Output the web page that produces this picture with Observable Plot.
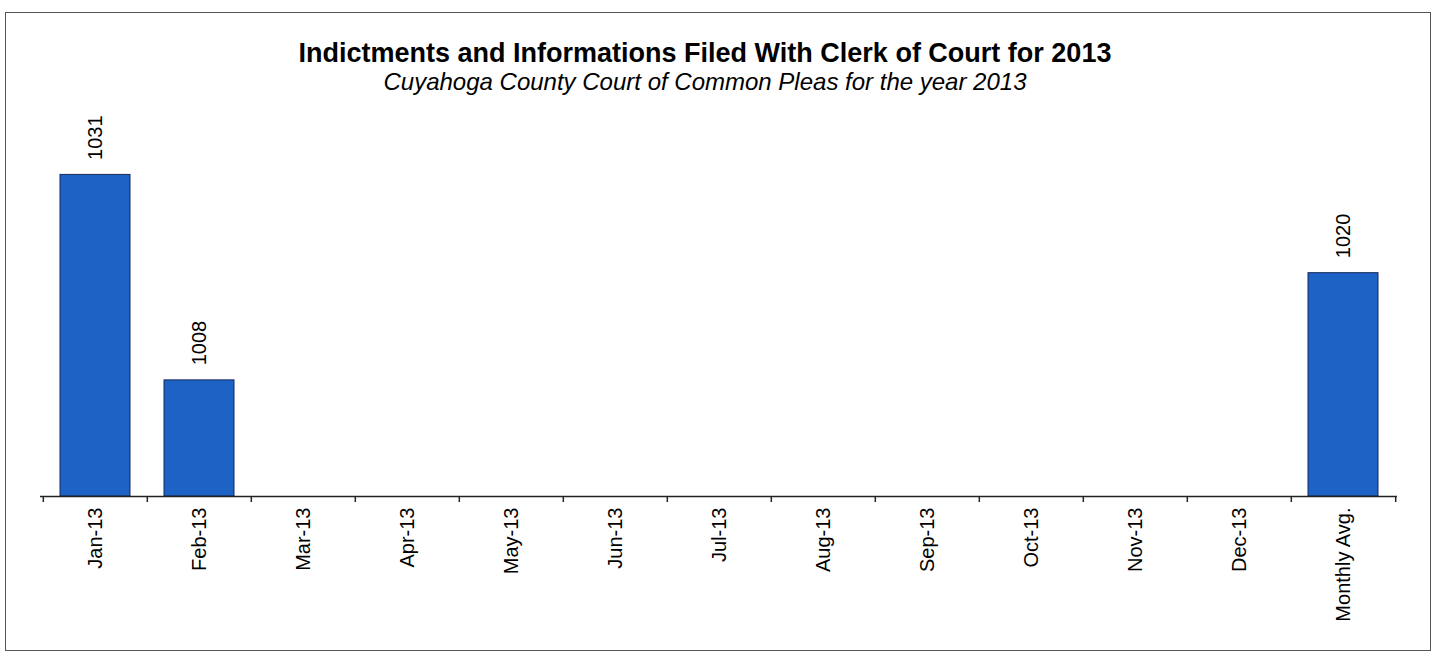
<!DOCTYPE html>
<html><head><meta charset="utf-8">
<script src="https://cdn.jsdelivr.net/npm/d3@7"></script>
<script src="https://cdn.jsdelivr.net/npm/@observablehq/plot@0.6"></script>
<style>
body{margin:0;background:#fff;font-family:"Liberation Sans",Arial,Helvetica,sans-serif;}
#wrap{position:relative;width:1437px;height:654px;overflow:hidden;background:#fff;}
#frame{position:absolute;left:5px;top:12px;width:1426px;height:639px;border:1.5px solid #555;box-sizing:border-box;}
#title{position:absolute;left:0;width:1410px;top:40px;text-align:center;font-weight:bold;font-size:27px;line-height:1;color:#000;white-space:nowrap;}
#subtitle{position:absolute;left:0;width:1410px;top:70px;text-align:center;font-style:italic;font-size:24px;line-height:1;color:#000;white-space:nowrap;}
#chart{position:absolute;left:0;top:94px;}
</style>
</head><body>
<div id="wrap">
  <div id="frame"></div>
  <div id="title">Indictments and Informations Filed With Clerk of Court for 2013</div>
  <div id="subtitle">Cuyahoga County Court of Common Pleas for the year 2013</div>
  <div id="chart"></div>
</div>
<script>
// Data
const categories = ["Jan-13","Feb-13","Mar-13","Apr-13","May-13","Jun-13","Jul-13","Aug-13","Sep-13","Oct-13","Nov-13","Dec-13","Monthly Avg."];
const values = [1031, 1008, null, null, null, null, null, null, null, null, null, null, 1020];
const yDomain = [995, 1040];

const data = categories.map((c, i) => ({category: c, value: values[i]}));
const bars = data.filter(d => d.value != null);

const W = 1437, H = 560, mL = 40, mR = 40;
const step = (W - mL - mR) / categories.length;
const font = '"Liberation Sans", Arial, Helvetica, sans-serif';

const plot = Plot.plot({
  width: W,
  height: H,
  marginLeft: mL,
  marginRight: mR,
  marginTop: 0,
  marginBottom: 158,
  style: {fontFamily: font, background: "transparent", color: "#000", overflow: "visible"},
  x: {type: "band", domain: categories, paddingInner: 0.33, paddingOuter: 0.165, label: null},
  y: {domain: yDomain, axis: null},
  marks: [
    Plot.barY(bars, {x: "category", y1: yDomain[0], y2: "value", fill: "#1d63c6", stroke: "#18295a", strokeWidth: 1}),
    Plot.text(bars, {x: "category", y: "value", text: d => String(d.value), rotate: -90, textAnchor: "start", dy: -15, fontSize: 20, fill: "#000"}),
    Plot.ruleY([yDomain[0]], {stroke: "#222", strokeWidth: 1.5}),
    Plot.axisX({ticks: categories, tickSize: 6, tickFormat: () => "", fill: "none", dx: -step / 2, stroke: "#222", strokeWidth: 1.5, label: null}),
    Plot.axisX({ticks: [categories[categories.length - 1]], tickSize: 6, tickFormat: () => "", fill: "none", dx: step / 2, stroke: "#222", strokeWidth: 1.5, label: null}),
    Plot.axisX({tickSize: 0, tickRotate: -90, tickPadding: 11, fontSize: 20, fill: "#000", label: null})
  ]
});
document.getElementById("chart").appendChild(plot);
</script>
</body></html>
